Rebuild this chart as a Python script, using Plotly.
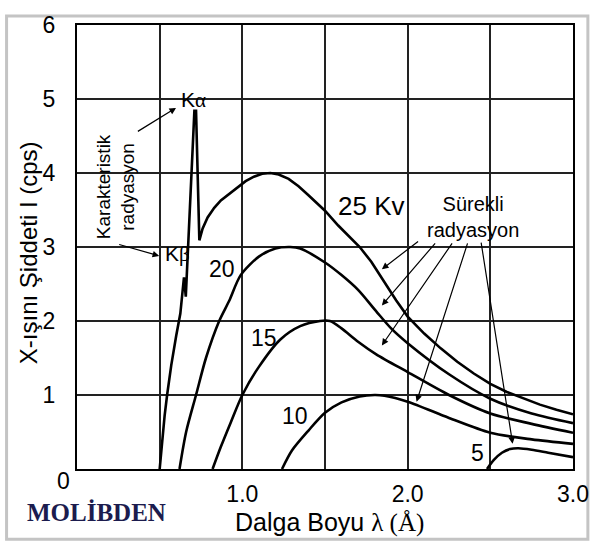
import plotly.graph_objects as go

# ---- data ----
x25 = [0.50,0.515,0.53,0.545,0.57,0.60,0.625,0.647,0.658,0.71,0.72,0.74,0.76,0.79,0.83,0.87,0.92,0.97,1.02,1.07,1.12,1.17,1.22,1.28,1.34,1.40,1.46,1.50,1.58,1.64,1.71,1.78,1.86,1.93,2.0,2.1,2.2,2.3,2.4,2.5,2.6,2.7,2.8,2.9,3.0]
y25 = [0,0.4,0.72,1.0,1.4,1.8,2.1,2.59,2.33,4.84,4.84,3.09,3.25,3.40,3.53,3.63,3.72,3.81,3.89,3.95,3.99,4.0,3.98,3.92,3.82,3.70,3.58,3.49,3.29,3.15,3.0,2.8,2.52,2.28,2.06,1.83,1.63,1.45,1.29,1.15,1.04,0.95,0.87,0.80,0.74]

x20 = [0.62,0.66,0.72,0.78,0.86,0.92,0.99,1.1,1.2,1.29,1.35,1.5,1.6,1.7,1.81,1.9,2.0,2.25,2.5,2.75,3.0]
y20 = [0,0.5,1.0,1.5,2.0,2.27,2.62,2.87,2.98,3.0,2.98,2.79,2.62,2.42,2.13,1.9,1.70,1.28,0.95,0.75,0.62]

x15 = [0.82,0.87,0.93,1.0,1.1,1.23,1.35,1.47,1.53,1.6,1.7,1.81,2.0,2.25,2.5,2.75,3.0]
y15 = [0,0.3,0.63,1.0,1.38,1.75,1.93,2.0,2.0,1.9,1.72,1.55,1.31,1.0,0.75,0.61,0.49]

x10 = [1.24,1.3,1.4,1.5,1.6,1.71,1.8,1.86,2.0,2.25,2.5,2.75,3.0]
y10 = [0,0.25,0.52,0.76,0.9,0.98,1.0,0.99,0.91,0.69,0.49,0.40,0.34]

x5 = [2.48,2.52,2.57,2.62,2.67,2.75,2.85,3.0]
y5 = [0,0.12,0.22,0.27,0.28,0.26,0.22,0.16]

x_tick_vals = [0,0.5,1.0,1.5,2.0,2.5,3.0]
x_tick_text = ["","","1.0","","2.0","","3.0"]
y_tick_vals = [0,1,2,3,4,5,6]
y_tick_text = ["","1","2","3","4","5","6"]

SANS = "Liberation Sans, Arial, sans-serif"
SERIF = "Liberation Serif, Times New Roman, serif"

fig = go.Figure()
fig.add_trace(go.Scatter(x=x25, y=y25, mode="lines", line=dict(color="black", width=2.6), hoverinfo="skip"))
for xs, ys in [(x20, y20), (x15, y15), (x10, y10), (x5, y5)]:
    fig.add_trace(go.Scatter(x=xs, y=ys, mode="lines", line=dict(color="black", width=2.6, shape="spline", smoothing=0.8), hoverinfo="skip"))

ann = []
def txt(x, y, t, size, **kw):
    d = dict(x=x, y=y, xref="x", yref="y", text=t, showarrow=False,
             font=dict(family=SANS, size=size, color="black"))
    d.update(kw)
    ann.append(d)

txt(0.705, 4.98, "K<span style='font-family:Liberation Serif'>α</span>", 21)
txt(0.605, 2.90, "K<span style='font-family:Liberation Serif'>β</span>", 21)
txt(0.235, 3.82, "Karakteristik<br>radyasyon", 19, textangle=-90)
txt(0.874, 2.70, "20", 23)
txt(1.78, 3.55, "25 Kv", 26)
txt(2.395, 3.41, "Sürekli<br>radyasyon", 20)
txt(1.13, 1.77, "15", 23)
txt(1.32, 0.71, "10", 23)
txt(2.42, 0.21, "5", 23)

def arrow(tx, ty, sx, sy):
    ann.append(dict(x=tx, y=ty, ax=sx, ay=sy, xref="x", yref="y", axref="x", ayref="y",
                    text="", showarrow=True, arrowhead=2, arrowsize=1.1, arrowwidth=1.2,
                    arrowcolor="black", standoff=0))

arrow(0.599, 4.88, 0.359, 4.55)
arrow(0.497, 2.88, 0.246, 3.04)
arrow(1.844, 2.70, 2.072, 3.09)
arrow(1.844, 2.21, 2.174, 3.07)
arrow(1.844, 1.67, 2.275, 3.07)
arrow(2.054, 0.91, 2.365, 3.07)
arrow(2.635, 0.34, 2.443, 3.08)

# origin label and axis titles
ann.append(dict(x=-0.028, y=-0.026, xref="paper", yref="paper", text="0", showarrow=False,
                xanchor="center", yanchor="middle", font=dict(family=SANS, size=23, color="black")))
ann.append(dict(x=-0.104, y=-0.097, xref="paper", yref="paper", text="<b>MOLİBDEN</b>", showarrow=False,
                xanchor="left", yanchor="middle", font=dict(family=SERIF, size=25, color="#1c1c4e")))
ann.append(dict(x=0.509, y=-0.121, xref="paper", yref="paper",
                text="Dalga Boyu <span style='font-family:Liberation Serif'>λ (Å)</span>", showarrow=False,
                xanchor="center", yanchor="middle", font=dict(family=SANS, size=25, color="black")))
ann.append(dict(x=-0.098, y=0.487, xref="paper", yref="paper", text="X-ışını Şiddeti I (cps)",
                showarrow=False, textangle=-90, xanchor="center", yanchor="middle",
                font=dict(family=SANS, size=24, color="black")))

fig.update_layout(
    width=601, height=547,
    margin=dict(l=77, r=23, t=15, b=78, pad=0),
    paper_bgcolor="white", plot_bgcolor="white",
    showlegend=False,
    annotations=ann,
    shapes=[dict(type="rect", xref="paper", yref="paper", x0=-0.142, x1=1.030, y0=-0.158, y1=1.020,
                 line=dict(color="#c4c4c4", width=3), layer="below")],
    xaxis=dict(range=[0, 3], tickvals=x_tick_vals, ticktext=x_tick_text, showgrid=True,
               gridcolor="#222222", gridwidth=1.6, showline=True, linecolor="black", linewidth=2.4,
               mirror=True, ticks="", ticklabelstandoff=3, zeroline=False,
               tickfont=dict(family=SANS, size=23, color="black")),
    yaxis=dict(range=[0, 6], tickvals=y_tick_vals, ticktext=y_tick_text, showgrid=True,
               gridcolor="#222222", gridwidth=1.6, showline=True, linecolor="black", linewidth=2.4,
               mirror=True, ticks="", ticklabelstandoff=15, zeroline=False,
               tickfont=dict(family=SANS, size=23, color="black")),
)

fig.write_html("out.html")
